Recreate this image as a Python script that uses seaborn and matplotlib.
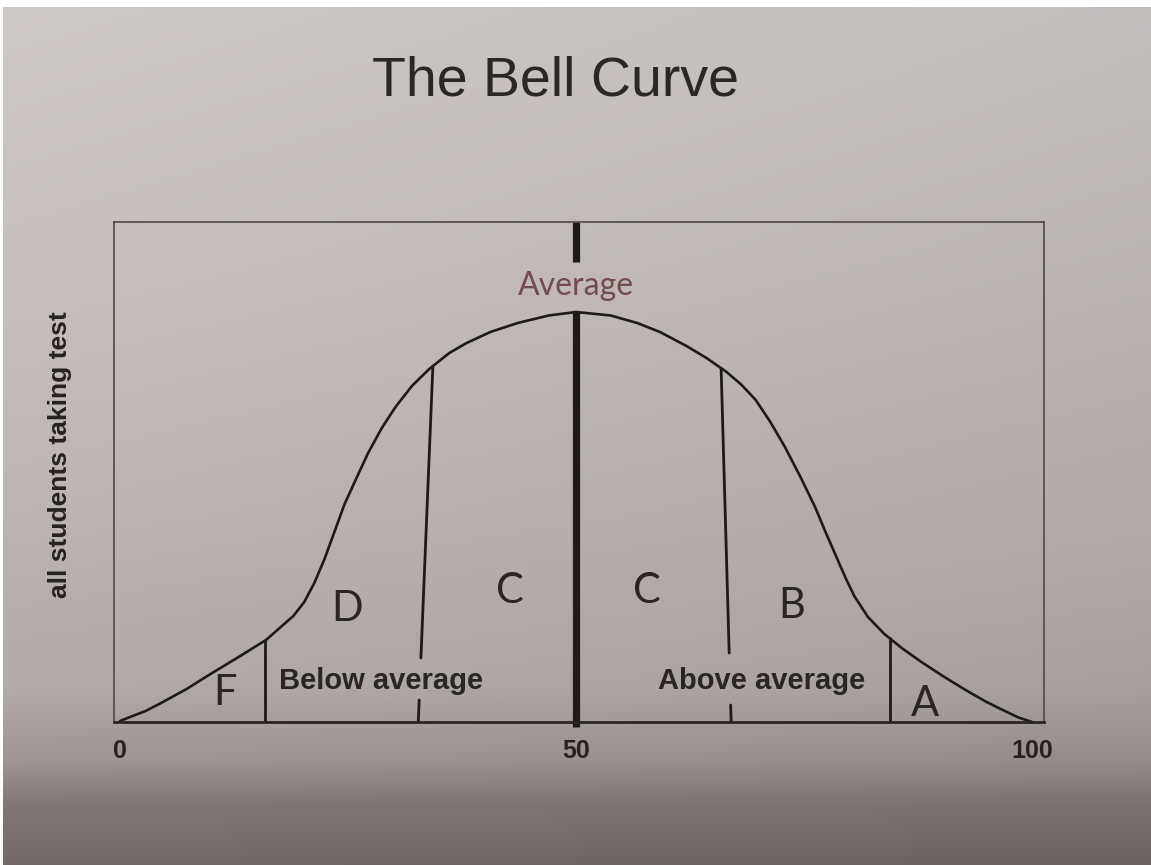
import numpy as np
import pandas as pd
import matplotlib
matplotlib.use("Agg")
import matplotlib.pyplot as plt
import seaborn as sns

# Bell curve: test score versus relative share of students
score = [0, 1.1, 2.8, 4.5, 7.3, 10.1, 13.0, 16.0, 19.0, 20.2, 21.3, 22.4,
         23.5, 24.6, 25.9, 27.2, 28.7, 30.2, 32.0, 33.9, 36.1, 38.0, 40.6,
         43.6, 47.0, 50.0, 53.8, 56.7, 59.2, 62.1, 64.3, 66.5, 68.1, 69.7,
         71.3, 72.9, 74.6, 76.2, 77.3, 78.4, 79.5, 80.5, 82.0, 83.8, 85.7,
         87.7, 90.2, 92.7, 95.0, 97.0, 98.5, 100]
share = [0.002, 0.010, 0.022, 0.038, 0.066, 0.098, 0.130, 0.164, 0.212, 0.240,
         0.278, 0.325, 0.380, 0.435, 0.487, 0.538, 0.588, 0.630, 0.672, 0.706,
         0.738, 0.758, 0.780, 0.798, 0.813, 0.820, 0.813, 0.798, 0.780, 0.752,
         0.728, 0.700, 0.675, 0.644, 0.600, 0.550, 0.490, 0.430, 0.382, 0.336,
         0.290, 0.252, 0.210, 0.176, 0.148, 0.122, 0.092, 0.064, 0.040, 0.022,
         0.009, 0.0]

tick_scores = [0, 50, 100]
tick_labels = ["0", "50", "100"]

# grade cut-offs (hand-drawn, so the top and bottom of a line differ a little)
cut_top = [15.85, 34.3, 50.0, 65.9, 84.4]
cut_bottom = [15.85, 32.7, 50.0, 67.0, 84.4]

grades = ["F", "D", "C", "C", "B", "A"]
band_labels = ["Below average", "Above average"]
mean_label = "Average"

# annotation placement
grade_pos = [(11.5, 0.058), (24.9, 0.226), (42.7, 0.262), (57.8, 0.262),
             (73.6, 0.232), (88.3, 0.036)]
band_pos = [(28.6, 0.082), (70.3, 0.082)]
mean_pos = (50.0, 0.872)

W, H = 1151, 865
sns.set_theme(style="white")
plt.rcParams["font.family"] = ["Liberation Sans", "DejaVu Sans"]

fig = plt.figure(figsize=(W / 100, H / 100), dpi=100)

# paper background with uneven lighting
bg = fig.add_axes([0, 0, 1, 1], zorder=0)
yy = np.linspace(0, 1, 400)[:, None]
xx = np.linspace(0, 1, 300)[None, :]
stops_y = [0.0, 0.3, 0.6, 0.8, 0.88, 0.93, 1.0]
stops_c = np.array([[207, 201, 200], [199, 192, 191], [189, 181, 180],
                    [178, 170, 169], [158, 149, 148], [130, 121, 119],
                    [114, 105, 104]], float)
grad = np.stack([np.interp(yy[:, 0], stops_y, stops_c[:, k]) for k in range(3)], axis=-1)
grad = grad[:, None, :] * (1 - 0.06 * xx[..., None])
grad = np.clip(grad / 255.0, 0, 1)
bg.imshow(grad, aspect="auto", extent=[0, 1, 0, 1], interpolation="bilinear")
bg.add_patch(plt.Rectangle((0, 1 - 7 / H), 1, 7 / H, color="white", lw=0))
bg.add_patch(plt.Rectangle((0, 0), 3 / W, 1, color="white", lw=0))
bg.set_xlim(0, 1)
bg.set_ylim(0, 1)
bg.axis("off")

ax = fig.add_axes([114 / W, (H - 722) / H, 930 / W, 500 / H], zorder=1)
ax.set_facecolor("none")

ink = "#1d1a1a"
df = pd.DataFrame({"score": score, "share": share})
sns.lineplot(data=df, x="score", y="share", ax=ax, color=ink, lw=1.9,
             sort=True, estimator=None)

ax.set_xlim(-0.66, 101.3)
ax.set_ylim(0, 1)

# grade boundaries
gaps = {1: (0.044, 0.128), 3: (0.034, 0.138)}
for i, (xt, xb) in enumerate(zip(cut_top, cut_bottom)):
    h_top = float(np.interp(xt, score, share))
    if i == 2:
        ax.plot([xb, xt], [-0.01, h_top], color=ink, lw=5.2,
                solid_capstyle="butt", clip_on=False)
        ax.plot([xt, xt], [0.92, 1.0], color=ink, lw=5.2,
                solid_capstyle="butt", clip_on=False)
        continue

    def xat(h):
        return xb + (xt - xb) * h / h_top

    if i in gaps:
        lo, hi = gaps[i]
        ax.plot([xat(hi), xt], [hi, h_top], color=ink, lw=2.0)
        ax.plot([xb, xat(lo)], [0.0, lo], color=ink, lw=2.0)
    else:
        ax.plot([xb, xt], [0.0, h_top], color=ink, lw=2.0)

hand = ["Lato", "DejaVu Sans"]
for g, (gx, gy) in zip(grades, grade_pos):
    ax.text(gx, gy, g, ha="center", va="center", fontsize=30, color="#2a2626",
            family=hand, fontweight="normal")

for t, (bx, by) in zip(band_labels, band_pos):
    ax.text(bx, by, t, ha="center", va="center", fontsize=21,
            fontweight="bold", color="#2a2626")

ax.text(mean_pos[0], mean_pos[1], mean_label, ha="center", va="center",
        fontsize=23, color="#734c50", family=hand, fontweight="normal")

ax.set_xticks(tick_scores, tick_labels)
ax.set_yticks([])
ax.tick_params(axis="x", length=0, pad=12, labelsize=18, labelcolor="#262222")
for lab in ax.get_xticklabels():
    lab.set_fontweight("bold")
ax.set_xlabel("")
ax.set_ylabel("all students taking test", fontsize=19, fontweight="bold",
              color="#262222")
ax.yaxis.set_label_coords(-0.045, 0.534)

for side in ["left", "top", "right"]:
    ax.spines[side].set_color("#4e4848")
    ax.spines[side].set_linewidth(1.2)
ax.spines["bottom"].set_color("#2a2525")
ax.spines["bottom"].set_linewidth(2.0)

fig.text(555 / W, 1 - 82 / H, "The Bell Curve", ha="center", va="center",
         fontsize=40, color="#2a2727")

fig.savefig("out.png", dpi=100)
